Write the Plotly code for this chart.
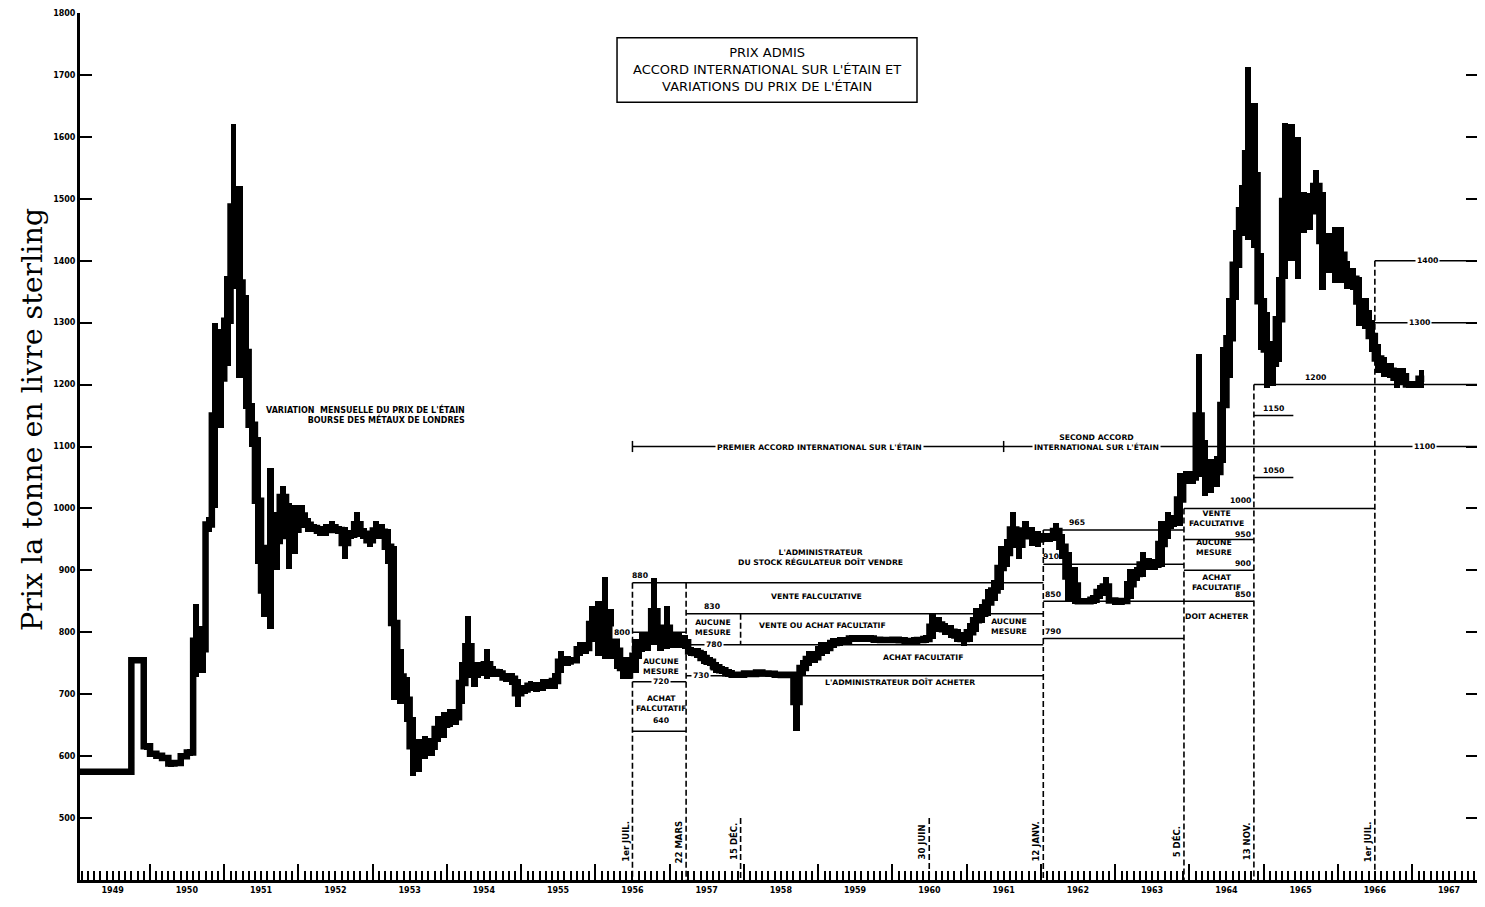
import pandas as pd
import plotly.graph_objects as go

# Monthly tin price range, London Metal Exchange, pounds per ton
low = [
    572, 572, 572, 572, 572, 572, 572, 572, 572, 750, 750, 610,  # 1949
    600, 597, 594, 582, 584, 596, 600, 728, 735, 962, 1000, 1130,  # 1950
    1230, 1355, 1210, 1160, 1100, 910, 825, 806, 900, 1000, 903, 926,  # 1951
    972, 962, 962, 956, 955, 960, 958, 918, 950, 955, 950, 937,  # 1952
    950, 950, 910, 690, 684, 655, 568, 574, 595, 600, 623, 630,  # 1953
    647, 650, 684, 729, 711, 730, 724, 727, 727, 719, 715, 679,  # 1954
    700, 705, 703, 705, 708, 708, 735, 745, 750, 761, 765, 785,  # 1955
    761, 757, 757, 740, 725, 724, 735, 768, 770, 780, 770, 773,  # 1956
    775, 775, 773, 761, 758, 748, 745, 735, 732, 728, 728, 728,  # 1957
    730, 730, 732, 730, 730, 728, 728, 728, 640, 729, 745, 750,  # 1958
    761, 765, 775, 778, 780, 785, 785, 785, 785, 783, 782, 782,  # 1959
    783, 782, 780, 780, 782, 783, 789, 800, 795, 790, 785, 778,  # 1960
    785, 800, 815, 826, 850, 869, 906, 937, 918, 950, 940, 937,  # 1961
    945, 945, 950, 918, 850, 845, 845, 845, 845, 853, 858, 848,  # 1962
    846, 846, 853, 883, 890, 900, 900, 906, 950, 970, 971, 1040,  # 1963
    1040, 1050, 1020, 1025, 1034, 1074, 1210, 1337, 1440, 1434, 1421, 1256,  # 1964
    1195, 1197, 1237, 1370, 1400, 1371, 1445, 1450, 1494, 1353, 1380, 1364,  # 1965
    1364, 1355, 1353, 1294, 1290, 1252, 1219, 1213, 1210, 1195, 1200, 1195,  # 1966
    1195, 1195,  # 1967
]
high = [
    578, 578, 578, 578, 578, 578, 578, 578, 578, 760, 760, 622,  # 1949
    608, 604, 600, 594, 594, 604, 612, 845, 810, 986, 1300, 1290,  # 1950
    1376, 1620, 1520, 1345, 1170, 1115, 910, 1066, 995, 1037, 1008, 1005,  # 1951
    1005, 985, 975, 972, 975, 979, 972, 970, 965, 994, 968, 960,  # 1952
    979, 975, 966, 940, 773, 727, 664, 627, 632, 630, 665, 671,  # 1953
    676, 676, 752, 826, 752, 752, 773, 745, 740, 735, 735, 724,  # 1954
    715, 722, 720, 724, 724, 735, 770, 761, 760, 784, 784, 842,  # 1955
    850, 890, 837, 800, 760, 760, 789, 800, 800, 888, 800, 842,  # 1956
    800, 800, 795, 777, 775, 769, 760, 752, 745, 740, 735, 735,  # 1957
    737, 735, 738, 737, 736, 735, 734, 735, 735, 756, 769, 769,  # 1958
    784, 784, 790, 792, 792, 795, 795, 795, 795, 793, 793, 793,  # 1959
    793, 792, 790, 792, 793, 795, 829, 825, 815, 812, 805, 800,  # 1960
    815, 839, 845, 870, 885, 939, 950, 995, 965, 979, 970, 963,  # 1961
    960, 960, 977, 958, 930, 906, 855, 855, 860, 877, 890, 855,  # 1962
    853, 855, 902, 905, 929, 920, 918, 979, 994, 990, 1058, 1060,  # 1963
    1060, 1250, 1110, 1080, 1084, 1260, 1340, 1450, 1523, 1713, 1655, 1413,  # 1964
    1318, 1270, 1374, 1623, 1620, 1600, 1511, 1510, 1547, 1511, 1445, 1455,  # 1965
    1455, 1400, 1389, 1374, 1340, 1305, 1265, 1245, 1235, 1227, 1227, 1205,  # 1966
    1205, 1224,  # 1967
]

# Price ranges fixed under the International Tin Agreements
range_start = ["1956-07-01", "1956-07-01", "1956-07-01", "1956-07-01",
               "1957-03-22", "1957-03-22", "1957-03-22",
               "1962-01-12", "1962-01-12", "1962-01-12", "1962-01-12",
               "1963-12-05", "1963-12-05", "1963-12-05",
               "1964-11-13", "1964-11-13", "1964-11-13", "1956-07-01",
               "1966-07-01", "1966-07-01"]
range_end = ["1962-01-12", "1957-03-22", "1957-03-22", "1957-03-22",
             "1962-01-12", "1962-01-12", "1962-01-12",
             "1963-12-05", "1963-12-05", "1964-11-13", "1963-12-05",
             "1966-07-01", "1964-11-13", "1964-11-13",
             "1967-12-31", "1965-05-26", "1965-05-26", "1967-12-31",
             "1967-12-31", "1967-12-31"]
range_price = [880, 800, 720, 640,
               830, 780, 730,
               965, 910, 850, 790,
               1000, 950, 900,
               1200, 1150, 1050, 1100,
               1400, 1300]

# Dates at which the ranges changed (dashed markers)
cut_date = ["1956-07-01", "1957-03-22", "1957-12-15", "1957-12-15", "1960-06-30",
            "1962-01-12", "1963-12-05", "1964-11-13", "1966-07-01"]
cut_top = [880, 880, 830, 500, 500, 965, 1000, 1200, 1400]
cut_bottom = [400, 400, 780, 400, 400, 400, 400, 400, 400]
cut_label = ["1er JUIL.", "22 MARS", None, "15 DÉC.", "30 JUIN",
             "12 JANV.", "5 DÉC.", "13 NOV.", "1er JUIL."]

accord_bounds = ["1956-07-01", "1961-07-01"]
years = list(range(1949, 1968))


def when(t):
    year = int(t)
    start = pd.Timestamp(year=year, month=1, day=1)
    end = pd.Timestamp(year=year + 1, month=1, day=1)
    return start + (end - start) * (t - year)


month_start = pd.date_range("1949-01-01", periods=len(low) + 1, freq="MS")
month_ms = [(b - a).total_seconds() * 1000 for a, b in zip(month_start[:-1], month_start[1:])]
mid = [(lo + hi) / 2 for lo, hi in zip(low, high)]

fig = go.Figure()

# agreement price levels
hx, hy = [], []
for s, e, p in zip(range_start, range_end, range_price):
    hx += [s, e, None]
    hy += [p, p, None]
fig.add_trace(go.Scatter(x=hx, y=hy, mode="lines", line={"color": "black", "width": 1.5},
                         hoverinfo="skip"))

vx, vy = [], []
for d, top, bot in zip(cut_date, cut_top, cut_bottom):
    vx += [d, d, None]
    vy += [top, bot, None]
fig.add_trace(go.Scatter(x=vx, y=vy, mode="lines",
                         line={"color": "black", "width": 1.6, "dash": "6px,3px"},
                         hoverinfo="skip"))

ax, ay = [], []
for d in accord_bounds:
    ax += [d, d, None]
    ay += [1091, 1109, None]
fig.add_trace(go.Scatter(x=ax, y=ay, mode="lines", line={"color": "black", "width": 1.5},
                         hoverinfo="skip"))

# monthly high-low bands and the connecting step line
fig.add_trace(go.Bar(x=month_start[:-1], base=low, y=[hi - lo for lo, hi in zip(low, high)],
                     width=month_ms, offset=0, marker={"color": "black", "line": {"width": 0}}))
fig.add_trace(go.Scatter(x=list(month_start), y=mid + [mid[-1]], mode="lines",
                         line={"color": "black", "width": 6.5, "shape": "hv"}))

# overlay axis only used for the long year ticks
fig.add_trace(go.Scatter(x=[None], y=[None], xaxis="x2", hoverinfo="skip"))

small = {"family": "DejaVu Sans", "size": 7.7, "color": "black"}
notes = []


def note(text, t, v, boxed=False, **kw):
    item = {"x": when(t), "y": v, "text": f"<b>{text}</b>", "showarrow": False,
            "font": small, "borderpad": 1}
    if boxed:
        item["bgcolor"] = "white"
    item.update(kw)
    notes.append(item)


note("VARIATION  MENSUELLE DU PRIX DE L'ÉTAIN<br>BOURSE DES MÉTAUX DE LONDRES",
     1954.27, 1152, xanchor="right", align="right",
     font={"family": "DejaVu Sans", "size": 8, "color": "black"})
note("PREMIER ACCORD INTERNATIONAL SUR L'ÉTAIN", 1959.02, 1100, boxed=True)
note("SECOND ACCORD<br>INTERNATIONAL SUR L'ÉTAIN", 1962.75, 1107, boxed=True)
note("L'ADMINISTRATEUR<br>DU STOCK RÉGULATEUR DOÎT VENDRE", 1959.03, 921)
note("VENTE FALCULTATIVE", 1958.98, 858)
note("VENTE OU ACHAT FACULTATIF", 1959.06, 811)
note("AUCUNE<br>MESURE", 1957.58, 807)
note("AUCUNE<br>MESURE", 1961.57, 809)
note("ACHAT FACULTATIF", 1960.41, 759)
note("L'ADMINISTRATEUR DOÎT ACHETER", 1960.1, 719)
note("880", 1956.6, 891)
note("800", 1956.36, 800, boxed=True)
note("AUCUNE<br>MESURE", 1956.88, 744)
note("720", 1956.88, 720, boxed=True)
note("ACHAT<br>FALCUTATIF", 1956.88, 685)
note("640", 1956.88, 658)
note("830", 1957.57, 841)
note("780", 1957.6, 780, boxed=True)
note("730", 1957.42, 730, boxed=True)
note("965", 1962.49, 977)
note("910", 1962.13, 922)
note("850", 1962.16, 861)
note("790", 1962.16, 801)
note("1000", 1964.85, 1013, xanchor="right")
note("VENTE<br>FACULTATIVE", 1964.37, 983)
note("950", 1964.85, 958, xanchor="right")
note("AUCUNE<br>MESURE", 1964.33, 937)
note("900", 1964.85, 911, xanchor="right")
note("ACHAT<br>FACULTATIF", 1964.37, 881)
note("850", 1964.85, 861, xanchor="right")
note("DOIT ACHETER", 1964.37, 826)
note("1200", 1965.7, 1211)
note("1150", 1965.13, 1161)
note("1050", 1965.13, 1061)
note("1400", 1967.21, 1400, boxed=True)
note("1300", 1967.1, 1300, boxed=True)
note("1100", 1967.17, 1100, boxed=True)

for d, label in zip(cut_date, cut_label):
    if label:
        notes.append({"x": pd.Timestamp(d) - pd.Timedelta(days=36), "y": 462,
                      "text": f"<b>{label}</b>", "showarrow": False, "textangle": -90,
                      "font": {"family": "DejaVu Sans", "size": 8.5, "color": "black"}})

notes.append({"x": when(1958.31), "y": 1709,
              "text": "PRIX ADMIS<br>ACCORD INTERNATIONAL SUR L'ÉTAIN ET<br>VARIATIONS DU PRIX DE L'ÉTAIN",
              "showarrow": False, "font": {"family": "DejaVu Sans", "size": 13, "color": "black"}})
notes.append({"x": -0.0336, "y": 0.5306, "xref": "paper", "yref": "paper", "textangle": -90,
              "xanchor": "center", "yanchor": "middle",
              "text": "Prix la tonne en livre sterling", "showarrow": False,
              "font": {"family": "DejaVu Serif", "size": 28.5, "color": "black"}})

fig.add_shape(type="rect", x0=when(1956.29), x1=when(1960.33), y0=1656, y1=1760,
              line={"color": "black", "width": 1.5})

tick_font = {"family": "DejaVu Sans", "size": 8, "color": "black"}
fig.update_layout(
    width=1477,
    height=899,
    margin={"l": 72, "r": 7, "t": 5, "b": 27},
    paper_bgcolor="white",
    plot_bgcolor="white",
    showlegend=False,
    bargap=0,
    annotations=notes,
    xaxis={
        "type": "date",
        "range": [when(1949.056), when(1967.886)],
        "tickvals": [f"{y}-07-01" for y in years],
        "ticktext": [f"<b>{y}</b>" for y in years],
        "ticks": "",
        "tickfont": tick_font,
        "showgrid": False,
        "zeroline": False,
        "showline": True,
        "linewidth": 3,
        "linecolor": "black",
        "automargin": False,
        "minor": {"dtick": "M1", "tick0": "1949-01-01", "ticks": "inside", "ticklen": 9,
                  "tickwidth": 1.5, "tickcolor": "black", "showgrid": False},
    },
    xaxis2={
        "type": "date",
        "overlaying": "x",
        "matches": "x",
        "anchor": "y",
        "side": "bottom",
        "tickvals": [f"{y}-01-01" for y in years],
        "ticks": "inside",
        "ticklen": 16,
        "tickwidth": 2,
        "tickcolor": "black",
        "showticklabels": False,
        "showgrid": False,
        "showline": False,
        "zeroline": False,
    },
    yaxis={
        "range": [400, 1800],
        "tickvals": list(range(500, 1900, 100)),
        "ticktext": [f"<b>{v}</b>" for v in range(500, 1900, 100)],
        "ticks": "inside",
        "ticklen": 12,
        "tickwidth": 2,
        "tickcolor": "black",
        "tickfont": tick_font,
        "showline": True,
        "linewidth": 3,
        "linecolor": "black",
        "mirror": "ticks",
        "showgrid": False,
        "zeroline": False,
        "automargin": False,
    },
)

fig.write_html("out.html")
